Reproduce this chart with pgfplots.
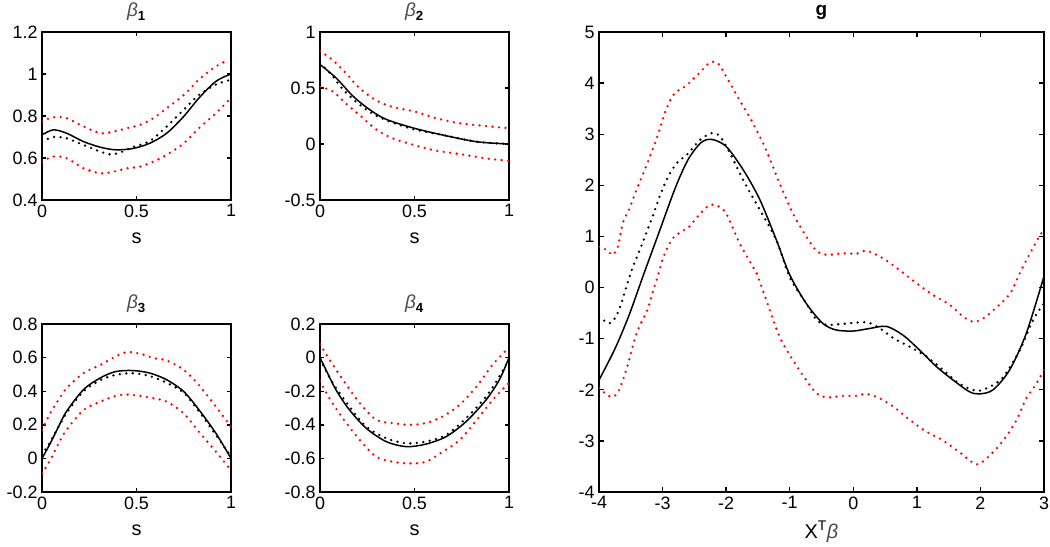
\documentclass[border=0pt]{standalone}
\usepackage{fontspec}
\setmainfont{Liberation Sans}
\usepackage{pgfplots}
\pgfplotsset{compat=1.18}
\pgfplotsset{
  mstyle/.style={scale only axis, anchor=south west, tick align=inside,
    axis line style={line width=1.8bp, black},
    major tick style={line width=1.4bp, black},
    major tick length=4bp,
    tick label style={font=\fontsize{18}{21}\selectfont},
    every axis label/.append style={font=\fontsize{20}{24}\selectfont},
    every axis title/.append style={font=\fontsize{19}{22}\selectfont},
    /pgf/number format/assume math mode=true,
    xticklabel style={yshift=-1bp},
    yticklabel style={xshift=-1bp},
    title style={at={(axis description cs:0.5,1)}, anchor=center, yshift=14bp},
    clip=true},
  est/.style={black, line width=1.5bp, smooth},
  tru/.style={black, line width=2.6bp, line cap=round, dash pattern=on 0bp off 6.5bp, smooth},
  ci/.style={red, line width=2.6bp, line cap=round, dash pattern=on 0bp off 6.5bp, smooth},
  small/.style={mstyle, width=189bp, height=168bp, xmin=0, xmax=1, xtick={0,0.5,1}, xlabel={s},
    xlabel style={at={(axis description cs:0.5,0)}, anchor=center, yshift=-38bp}}
}
\begin{document}
\begin{tikzpicture}
\useasboundingbox (0bp,0bp) rectangle (1050bp,547bp);
% beta 1
\begin{axis}[small, at={(42bp,347bp)}, ymin=0.4, ymax=1.2, ytick={0.4,0.6,0.8,1,1.2},
  title={{\color{black!70}\itshape β}\textsubscript{\bfseries 1}}]
\addplot[ci] coordinates {(0,0.774)(0.06,0.794)(0.13,0.79)(0.22,0.75)(0.31,0.718)(0.38,0.726)(0.45,0.742)(0.52,0.758)(0.59,0.79)(0.66,0.837)(0.75,0.9)(0.83,0.973)(0.92,1.036)(0.99,1.068)};
\addplot[ci] coordinates {(0,0.583)(0.06,0.607)(0.13,0.599)(0.22,0.551)(0.31,0.527)(0.38,0.535)(0.45,0.551)(0.52,0.559)(0.59,0.583)(0.66,0.615)(0.75,0.67)(0.83,0.742)(0.92,0.813)(0.99,0.877)};
\addplot[tru] coordinates {(0,0.678)(0.06,0.70)(0.13,0.694)(0.22,0.662)(0.31,0.63)(0.37,0.617)(0.43,0.632)(0.48,0.652)(0.57,0.68)(0.66,0.75)(0.75,0.83)(0.83,0.9)(0.92,0.95)(0.99,0.97)};
\addplot[est] coordinates {(0,0.71)(0.06,0.734)(0.13,0.718)(0.22,0.678)(0.31,0.651)(0.39,0.639)(0.48,0.645)(0.57,0.67)(0.66,0.718)(0.75,0.798)(0.83,0.885)(0.92,0.965)(1,1.0)};
\end{axis}
% beta 2
\begin{axis}[small, at={(320bp,347bp)}, ymin=-0.5, ymax=1, ytick={-0.5,0,0.5,1},
  title={{\color{black!70}\itshape β}\textsubscript{\bfseries 2}}]
\addplot[ci] coordinates {(0,0.83)(0.067,0.75)(0.138,0.63)(0.208,0.5)(0.297,0.39)(0.385,0.33)(0.5,0.29)(0.615,0.23)(0.74,0.185)(0.88,0.16)(1,0.14)};
\addplot[ci] coordinates {(0,0.51)(0.067,0.47)(0.138,0.36)(0.208,0.26)(0.297,0.13)(0.385,0.05)(0.5,-0.01)(0.615,-0.06)(0.74,-0.09)(0.88,-0.13)(1,-0.15)};
\addplot[tru] coordinates {(0,0.72)(0.06,0.62)(0.12,0.49)(0.21,0.35)(0.3,0.25)(0.385,0.19)(0.5,0.13)(0.65,0.08)(0.83,0.02)(1,0.0)};
\addplot[est] coordinates {(0,0.71)(0.085,0.59)(0.173,0.43)(0.26,0.31)(0.35,0.22)(0.5,0.14)(0.65,0.08)(0.83,0.02)(1,0.0)};
\end{axis}
% beta 3
\begin{axis}[small, at={(42bp,55bp)}, ymin=-0.2, ymax=0.8, ytick={-0.2,0,0.2,0.4,0.6,0.8},
  title={{\color{black!70}\itshape β}\textsubscript{\bfseries 3}}]
\addplot[ci] coordinates {(0,0.17)(0.044,0.27)(0.088,0.35)(0.13,0.418)(0.22,0.508)(0.31,0.557)(0.39,0.607)(0.45,0.633)(0.52,0.623)(0.59,0.597)(0.66,0.583)(0.75,0.527)(0.83,0.437)(0.92,0.308)(1,0.188)};
\addplot[ci] coordinates {(0,-0.09)(0.044,-0.01)(0.088,0.09)(0.13,0.17)(0.22,0.288)(0.31,0.338)(0.39,0.372)(0.45,0.38)(0.52,0.372)(0.59,0.358)(0.66,0.338)(0.75,0.268)(0.83,0.159)(0.92,0.04)(1,-0.07)};
\addplot[tru] coordinates {(0,0.02)(0.044,0.1)(0.13,0.27)(0.22,0.4)(0.31,0.467)(0.39,0.497)(0.48,0.507)(0.57,0.49)(0.66,0.45)(0.75,0.39)(0.83,0.28)(0.92,0.14)(1,0.01)};
\addplot[est] coordinates {(0,0)(0.044,0.09)(0.088,0.19)(0.13,0.28)(0.22,0.41)(0.31,0.48)(0.39,0.517)(0.48,0.523)(0.57,0.508)(0.66,0.468)(0.75,0.398)(0.83,0.29)(0.92,0.15)(1,0)};
\end{axis}
% beta 4
\begin{axis}[small, at={(320bp,55bp)}, ymin=-0.8, ymax=0.2, ytick={-0.8,-0.6,-0.4,-0.2,0,0.2},
  title={{\color{black!70}\itshape β}\textsubscript{\bfseries 4}}]
\addplot[ci] coordinates {(0,0.08)(0.049,-0.01)(0.12,-0.13)(0.21,-0.27)(0.297,-0.37)(0.385,-0.39)(0.473,-0.40)(0.56,-0.39)(0.65,-0.35)(0.74,-0.28)(0.83,-0.17)(0.915,-0.04)(1,0.06)};
\addplot[ci] coordinates {(0,-0.14)(0.049,-0.24)(0.12,-0.36)(0.21,-0.49)(0.297,-0.59)(0.385,-0.62)(0.473,-0.63)(0.56,-0.62)(0.65,-0.56)(0.74,-0.49)(0.83,-0.37)(0.915,-0.25)(1,-0.15)};
\addplot[tru] coordinates {(0,-0.01)(0.067,-0.15)(0.155,-0.29)(0.244,-0.41)(0.35,-0.48)(0.456,-0.51)(0.56,-0.5)(0.668,-0.46)(0.774,-0.36)(0.88,-0.23)(0.95,-0.11)(1,-0.01)};
\addplot[est] coordinates {(0,0)(0.032,-0.074)(0.085,-0.193)(0.155,-0.31)(0.244,-0.42)(0.35,-0.5)(0.456,-0.53)(0.56,-0.515)(0.668,-0.47)(0.774,-0.38)(0.88,-0.25)(0.95,-0.13)(1,0)};
\end{axis}
% g
\begin{axis}[mstyle, at={(599bp,55bp)}, width=445bp, height=460bp, major tick length=5bp,
  xmin=-4, xmax=3, ymin=-4, ymax=5, xtick={-4,...,3}, ytick={-4,...,5},
  title={\bfseries g}, xlabel={X\textsuperscript{T}{\color{black!70}\itshape β}},
  xlabel style={at={(axis description cs:0.5,0)}, anchor=center, yshift=-40bp}]
\addplot[ci] coordinates {(-4,0.8)(-3.87,0.73)(-3.79,0.64)(-3.71,0.77)(-3.66,1.06)(-3.61,1.32)(-3.53,1.52)(-3.41,1.91)(-3.26,2.37)(-3.1,2.89)(-2.94,3.5)(-2.81,3.8)(-2.63,3.95)(-2.42,4.2)(-2.26,4.4)(-2.13,4.39)(-2.0,4.13)(-1.79,3.67)(-1.58,3.22)(-1.37,2.69)(-1.16,2.04)(-0.95,1.45)(-0.74,1.0)(-0.58,0.72)(-0.42,0.64)(-0.16,0.67)(0.05,0.66)(0.21,0.72)(0.47,0.57)(0.73,0.34)(1.0,0.08)(1.26,-0.15)(1.52,-0.34)(1.73,-0.57)(1.89,-0.67)(2.05,-0.6)(2.26,-0.38)(2.47,-0.11)(2.62,0.28)(2.78,0.67)(2.94,1.03)(3,1.12)};
\addplot[ci] coordinates {(-4,-1.97)(-3.81,-2.14)(-3.7,-2.04)(-3.57,-1.61)(-3.41,-0.9)(-3.24,-0.44)(-3.16,-0.11)(-3.08,0.2)(-3.0,0.55)(-2.9,0.84)(-2.82,0.99)(-2.71,1.09)(-2.58,1.19)(-2.45,1.39)(-2.35,1.52)(-2.25,1.62)(-2.14,1.6)(-2.0,1.45)(-1.79,0.87)(-1.58,0.41)(-1.52,0.28)(-1.37,-0.24)(-1.16,-0.96)(-0.95,-1.42)(-0.74,-1.81)(-0.58,-2.07)(-0.42,-2.15)(-0.16,-2.12)(0.05,-2.12)(0.21,-2.08)(0.42,-2.17)(0.63,-2.33)(0.89,-2.59)(1.15,-2.82)(1.41,-2.99)(1.67,-3.22)(1.94,-3.46)(2.15,-3.28)(2.36,-2.99)(2.57,-2.59)(2.72,-2.17)(2.88,-1.88)(3.0,-1.61)};
\addplot[tru] coordinates {(-4,-0.57)(-3.84,-0.7)(-3.74,-0.58)(-3.66,-0.35)(-3.58,-0.03)(-3.48,0.36)(-3.37,0.7)(-3.27,1.02)(-3.16,1.38)(-3.04,1.8)(-2.92,2.15)(-2.78,2.43)(-2.6,2.62)(-2.42,2.88)(-2.23,3.02)(-2.1,2.96)(-1.94,2.63)(-1.73,2.1)(-1.47,1.52)(-1.21,0.93)(-1.0,0.2)(-0.74,-0.31)(-0.58,-0.63)(-0.42,-0.73)(-0.16,-0.71)(0.21,-0.68)(0.42,-0.8)(0.63,-0.99)(0.89,-1.16)(1.15,-1.35)(1.41,-1.61)(1.67,-1.88)(1.94,-2.02)(2.15,-1.94)(2.36,-1.75)(2.62,-1.22)(2.83,-0.63)(3.0,-0.31)};
\addplot[est] coordinates {(-4,-1.81)(-3.75,-1.2)(-3.53,-0.55)(-3.3,0.25)(-3.05,1.1)(-2.8,1.95)(-2.6,2.5)(-2.4,2.83)(-2.23,2.9)(-2.0,2.76)(-1.73,2.3)(-1.47,1.72)(-1.21,0.93)(-1.0,0.25)(-0.74,-0.31)(-0.48,-0.7)(-0.27,-0.83)(0.0,-0.85)(0.26,-0.8)(0.52,-0.76)(0.78,-0.93)(1.04,-1.22)(1.31,-1.55)(1.57,-1.81)(1.83,-2.04)(1.99,-2.08)(2.2,-2.0)(2.46,-1.61)(2.72,-0.9)(3.0,0.22)};
\end{axis}
\end{tikzpicture}
\end{document}
